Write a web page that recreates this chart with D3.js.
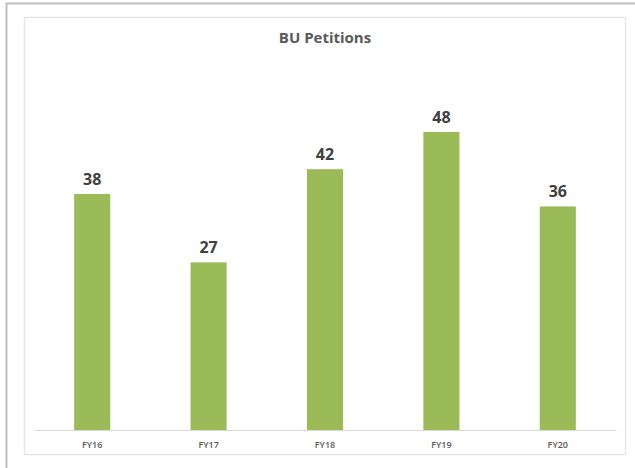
<!DOCTYPE html>
<html>
<head>
  <title>BU Petitions</title>
  <script src="https://d3js.org/d3.v7.min.js"></script>
  <style>
    body { margin: 0; background: #fff; }
    text { font-family: "Open Sans", "Noto Sans", sans-serif; }
  </style>
</head>
<body>
  <svg id="chart"></svg>
  <script>
    var years = ["FY16", "FY17", "FY18", "FY19", "FY20"];
    var petitions = [38, 27, 42, 48, 36];

    var width = 635, height = 468;
    var plot = { left: 34, right: 616, top: 57.4, bottom: 430 };

    var svg = d3.select("#chart")
      .attr("width", width)
      .attr("height", height);

    // outer frame (only top and left visible)
    svg.append("path")
      .attr("d", "M6.5,468 L6.5,3.5 L635,3.5")
      .attr("fill", "none")
      .attr("stroke", "#bdbdbd")
      .attr("stroke-width", 2);

    // chart area border
    svg.append("rect")
      .attr("x", 24.5).attr("y", 17.5)
      .attr("width", 601).attr("height", 437)
      .attr("fill", "#fff")
      .attr("stroke", "#e6e6e6")
      .attr("stroke-width", 1.5);

    var x = d3.scaleBand()
      .domain(years)
      .range([plot.left, plot.right])
      .paddingInner(0.69)
      .paddingOuter(0.345);

    var y = d3.scaleLinear()
      .domain([0, 60])
      .range([plot.bottom, plot.top]);

    svg.selectAll(".bar")
      .data(petitions)
      .enter()
      .append("rect")
      .attr("class", "bar")
      .attr("x", (d, i) => x(years[i]))
      .attr("y", d => y(d))
      .attr("width", x.bandwidth())
      .attr("height", d => y(0) - y(d))
      .attr("fill", "#9bbb59");

    svg.selectAll(".bar-label")
      .data(petitions)
      .enter()
      .append("text")
      .attr("class", "bar-label")
      .attr("x", (d, i) => x(years[i]) + x.bandwidth() / 2)
      .attr("y", d => y(d) - 9)
      .attr("text-anchor", "middle")
      .style("font-size", "16px")
      .style("font-weight", "bold")
      .style("fill", "#404040")
      .text(d => d);

    var xAxis = svg.append("g")
      .attr("transform", "translate(0," + plot.bottom + ")")
      .call(d3.axisBottom(x).tickSize(0).tickPadding(12));
    xAxis.select(".domain").attr("stroke", "#d9d9d9").attr("stroke-width", 1.2);
    xAxis.selectAll("text")
      .style("font-size", "9px")
      .style("font-weight", "600")
      .style("fill", "#595959");

    svg.append("text")
      .attr("x", 325)
      .attr("y", 43)
      .attr("text-anchor", "middle")
      .style("font-size", "15px")
      .style("font-weight", "bold")
      .style("fill", "#595959")
      .text("BU Petitions");
  </script>
</body>
</html>
